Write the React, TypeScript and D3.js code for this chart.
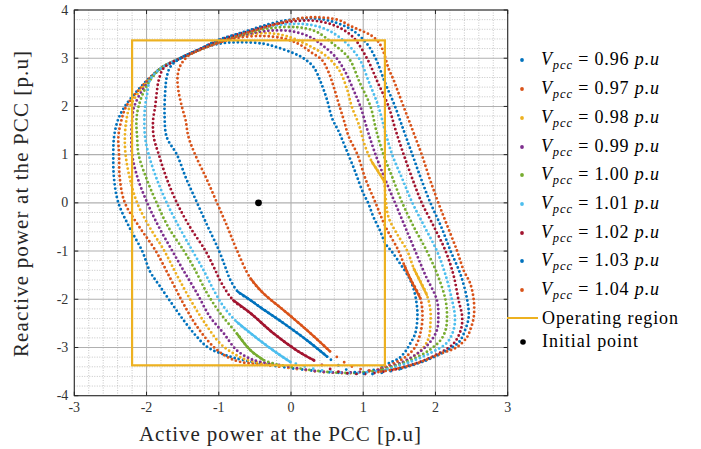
import React from "react";
import * as d3 from "d3";

const X_TICKS = [-3, -2, -1, 0, 1, 2, 3];
const Y_TICKS = [-4, -3, -2, -1, 0, 1, 2, 3, 4];
const V_LEVELS = ["0.96", "0.97", "0.98", "0.99", "1.00", "1.01", "1.02", "1.03", "1.04"];
const COLORS = ["#0072BD", "#D95319", "#EDB120", "#7E2F8E", "#77AC30", "#4DBEEE", "#A2142F", "#0072BD", "#D95319"];

const OPERATING_REGION = { pMin: -2.2, pMax: 1.3, qMin: -3.37, qMax: 3.37 };
const INITIAL_POINT: [number, number] = [-0.45, 0];

type P = [number, number];

const C096: P[] = [[-1.26,3.18],[-1.0,3.30],[-0.7,3.33],[-0.38,3.30],[-0.18,3.22],[0.04,3.10],[0.17,3.0],[0.31,2.82],[0.41,2.51],[0.50,2.13],[0.57,1.75],[0.66,1.48],[0.75,1.16],[0.89,0.64],[1.0,0.2],[1.07,-0.01],[1.14,-0.29],[1.23,-0.57],[1.31,-0.85],[1.40,-1.02],[1.51,-1.26],[1.63,-1.54],[1.70,-1.80],[1.74,-2.10],[1.75,-2.37],[1.72,-2.71],[1.65,-2.92],[1.58,-3.09],[1.49,-3.23],[1.38,-3.31],[1.26,-3.40],[1.0,-3.53],[0.7,-3.53],[0.3,-3.48],[-0.1,-3.41],[-0.43,-3.33],[-0.75,-3.23],[-0.98,-3.12],[-1.16,-2.99],[-1.32,-2.75],[-1.49,-2.43],[-1.65,-2.09],[-1.82,-1.72],[-1.95,-1.43],[-2.06,-1.0],[-2.24,-0.5],[-2.39,0.0],[-2.45,0.5],[-2.46,1.0],[-2.45,1.36],[-2.40,1.70],[-2.30,2.0],[-2.07,2.42],[-1.81,2.78],[-1.53,3.0]];
const C097: P[] = [[-1.26,3.18],[-1.0,3.32],[-0.75,3.42],[-0.4,3.46],[-0.1,3.41],[0.1,3.30],[0.27,3.13],[0.43,2.96],[0.52,2.71],[0.59,2.41],[0.66,2.06],[0.73,1.72],[0.80,1.37],[0.92,1.0],[1.03,0.5],[1.17,0.0],[1.31,-0.5],[1.49,-1.0],[1.57,-1.3],[1.65,-1.57],[1.79,-1.98],[1.82,-2.37],[1.79,-2.71],[1.72,-2.99],[1.60,-3.18],[1.45,-3.31],[1.2,-3.46],[0.8,-3.53],[0.4,-3.50],[0.0,-3.43],[-0.35,-3.36],[-0.70,-3.30],[-0.89,-3.19],[-1.07,-2.99],[-1.30,-2.57],[-1.49,-2.09],[-1.67,-1.57],[-1.88,-0.98],[-2.10,-0.5],[-2.30,0.0],[-2.37,0.5],[-2.38,1.0],[-2.39,1.36],[-2.35,1.70],[-2.28,2.0],[-2.06,2.42],[-1.81,2.78],[-1.53,3.0]];
const C098: P[] = [[-1.26,3.18],[-1.0,3.33],[-0.66,3.47],[-0.35,3.52],[-0.12,3.48],[0.08,3.38],[0.36,3.17],[0.50,3.03],[0.61,2.86],[0.68,2.72],[0.78,2.34],[0.84,2.0],[0.94,1.62],[1.02,1.2],[1.12,0.85],[1.28,0.47],[1.31,0.1],[1.35,-0.3],[1.47,-0.65],[1.61,-1.0],[1.70,-1.36],[1.88,-1.91],[1.93,-2.23],[1.93,-2.51],[1.91,-2.78],[1.84,-2.99],[1.70,-3.18],[1.50,-3.34],[1.2,-3.47],[0.8,-3.53],[0.4,-3.50],[0.0,-3.42],[-0.30,-3.35],[-0.61,-3.26],[-0.80,-3.12],[-0.98,-2.92],[-1.19,-2.50],[-1.39,-2.02],[-1.58,-1.50],[-1.76,-0.98],[-1.96,-0.5],[-2.13,0.0],[-2.23,0.5],[-2.29,1.0],[-2.30,1.36],[-2.28,1.70],[-2.23,2.0],[-2.04,2.42],[-1.81,2.78],[-1.53,3.0]];
const C099: P[] = [[-1.26,3.18],[-1.0,3.34],[-0.66,3.48],[-0.3,3.57],[0.0,3.56],[0.25,3.45],[0.45,3.25],[0.62,3.02],[0.75,2.72],[0.86,2.36],[0.96,2.0],[1.06,1.5],[1.17,1.0],[1.30,0.5],[1.44,0.0],[1.58,-0.5],[1.72,-1.0],[1.86,-1.5],[2.02,-2.02],[2.04,-2.37],[2.02,-2.64],[1.93,-2.88],[1.80,-3.07],[1.55,-3.30],[1.2,-3.47],[0.8,-3.52],[0.4,-3.50],[0.05,-3.42],[-0.25,-3.34],[-0.52,-3.26],[-0.75,-3.06],[-0.93,-2.71],[-1.12,-2.37],[-1.30,-1.88],[-1.49,-1.40],[-1.65,-0.98],[-1.83,-0.5],[-1.99,0.0],[-2.12,0.5],[-2.20,1.0],[-2.21,1.36],[-2.20,1.70],[-2.17,2.0],[-2.02,2.42],[-1.81,2.78],[-1.53,3.0]];
const C100: P[] = [[-1.26,3.18],[-1.0,3.35],[-0.66,3.50],[-0.3,3.62],[0.1,3.64],[0.35,3.55],[0.58,3.30],[0.80,3.0],[0.95,2.5],[1.10,2.0],[1.18,1.5],[1.28,1.0],[1.41,0.5],[1.54,0.0],[1.70,-0.5],[1.88,-1.0],[2.03,-1.5],[2.14,-2.02],[2.16,-2.37],[2.14,-2.64],[2.07,-2.85],[1.90,-3.07],[1.60,-3.30],[1.25,-3.47],[0.85,-3.53],[0.45,-3.50],[0.1,-3.43],[-0.20,-3.35],[-0.38,-3.26],[-0.56,-3.06],[-0.75,-2.71],[-0.98,-2.29],[-1.16,-1.88],[-1.35,-1.33],[-1.49,-0.98],[-1.70,-0.5],[-1.86,0.0],[-2.00,0.5],[-2.11,1.0],[-2.13,1.36],[-2.14,1.70],[-2.11,2.0],[-2.00,2.42],[-1.81,2.78],[-1.53,3.0]];
const C101: P[] = [[-1.26,3.19],[-1.0,3.36],[-0.66,3.51],[-0.3,3.66],[0.15,3.71],[0.45,3.62],[0.70,3.40],[0.94,3.0],[1.08,2.5],[1.21,2.0],[1.30,1.5],[1.40,1.0],[1.54,0.5],[1.68,0.0],[1.85,-0.5],[2.02,-1.0],[2.14,-1.5],[2.23,-2.02],[2.27,-2.37],[2.25,-2.64],[2.16,-2.90],[1.95,-3.10],[1.65,-3.30],[1.30,-3.47],[0.9,-3.53],[0.55,-3.50],[0.25,-3.42],[-0.01,-3.30],[-0.19,-3.12],[-0.47,-2.81],[-0.75,-2.47],[-0.93,-2.16],[-1.07,-1.81],[-1.21,-1.40],[-1.37,-0.98],[-1.55,-0.5],[-1.72,0.0],[-1.86,0.5],[-1.97,1.0],[-2.02,1.36],[-2.03,1.70],[-2.02,2.0],[-1.99,2.27],[-1.95,2.55],[-1.81,2.78],[-1.53,3.0]];
const C102: P[] = [[-1.26,3.19],[-1.0,3.37],[-0.66,3.53],[-0.3,3.68],[0.0,3.76],[0.3,3.78],[0.6,3.68],[0.85,3.45],[1.05,3.0],[1.20,2.5],[1.35,2.0],[1.45,1.5],[1.56,1.0],[1.68,0.5],[1.81,0.0],[1.98,-0.5],[2.14,-1.0],[2.25,-1.5],[2.32,-2.02],[2.37,-2.37],[2.35,-2.64],[2.25,-2.92],[2.05,-3.12],[1.75,-3.32],[1.40,-3.47],[1.0,-3.55],[0.6,-3.48],[0.31,-3.26],[0.08,-3.06],[-0.24,-2.71],[-0.56,-2.29],[-0.80,-2.02],[-0.96,-1.67],[-1.07,-1.33],[-1.19,-0.98],[-1.40,-0.5],[-1.58,0.0],[-1.72,0.5],[-1.83,1.0],[-1.90,1.36],[-1.91,1.70],[-1.88,2.0],[-1.86,2.27],[-1.83,2.55],[-1.76,2.80],[-1.53,3.0]];
const C103: P[] = [[-1.26,3.19],[-1.0,3.38],[-0.66,3.54],[-0.3,3.71],[0.0,3.80],[0.25,3.83],[0.55,3.77],[0.85,3.58],[1.05,3.30],[1.17,3.0],[1.30,2.5],[1.44,2.0],[1.56,1.5],[1.68,1.0],[1.80,0.5],[1.93,0.0],[2.08,-0.5],[2.21,-1.0],[2.35,-1.5],[2.44,-2.02],[2.46,-2.37],[2.41,-2.64],[2.33,-2.88],[2.15,-3.07],[1.85,-3.28],[1.50,-3.45],[1.10,-3.55],[0.75,-3.45],[0.50,-3.19],[0.22,-2.85],[-0.10,-2.50],[-0.43,-2.16],[-0.56,-2.02],[-0.73,-1.85],[-0.84,-1.60],[-0.91,-1.33],[-1.0,-0.98],[-1.15,-0.5],[-1.30,0.0],[-1.45,0.5],[-1.58,1.0],[-1.72,1.36],[-1.75,1.80],[-1.74,2.34],[-1.72,2.61],[-1.67,2.82],[-1.53,3.0]];
const C104: P[] = [[-1.26,3.17],[-1.03,3.31],[-0.66,3.50],[-0.15,3.73],[0.1,3.82],[0.35,3.85],[0.66,3.79],[0.82,3.67],[0.96,3.58],[1.10,3.48],[1.21,3.34],[1.28,3.13],[1.35,2.79],[1.42,2.55],[1.49,2.27],[1.56,1.99],[1.63,1.72],[1.70,1.44],[1.81,1.0],[1.92,0.5],[2.04,0.0],[2.17,-0.5],[2.30,-1.0],[2.39,-1.40],[2.48,-1.67],[2.53,-2.02],[2.53,-2.37],[2.48,-2.64],[2.44,-2.78],[2.30,-2.99],[2.07,-3.13],[1.74,-3.33],[1.47,-3.44],[1.21,-3.51],[0.89,-3.42],[0.73,-3.30],[0.54,-3.08],[0.22,-2.64],[-0.10,-2.23],[-0.38,-1.88],[-0.56,-1.57],[-0.75,-0.98],[-0.88,-0.5],[-1.025,0.0],[-1.17,0.5],[-1.324,0.99],[-1.42,1.37],[-1.46,1.72],[-1.51,1.99],[-1.56,2.34],[-1.57,2.62],[-1.53,2.85],[-1.42,3.05]];

const CURVES: P[][] = [C096, C097, C098, C099, C100, C101, C102, C103, C104];

// [series, first index, last index] of stretches where the samples are packed densely
const DENSE_RUNS: [number, number, number][] = [
  [1, 18, 20],
  [2, 14, 15],
  [2, 20, 21],
  [4, 28, 30],
  [5, 27, 30],
  [6, 27, 31],
  [7, 28, 33],
  [8, 36, 40],
];

// [series, first index, last index] of the fast, sparsely sampled stretch along the bottom
const SPARSE_RUNS: [number, number, number][] = [
  [0, 30, 35],
  [1, 26, 30],
  [2, 28, 32],
  [3, 24, 28],
  [4, 23, 27],
  [5, 23, 27],
  [6, 24, 27],
  [7, 25, 28],
  [8, 33, 36],
];

const W = 701;
const H = 449;
const L = 74.3, R = 507.7, T = 10, B = 395.7;

export default function App() {
  const x = d3.scaleLinear().domain([-3, 3]).range([L, R]);
  const y = d3.scaleLinear().domain([-4, 4]).range([B, T]);

  const open = d3
    .line<P>()
    .x((d) => x(d[0]))
    .y((d) => y(d[1]))
    .curve(d3.curveCatmullRom.alpha(0.5));

  const minorX = d3.range(-3, 3.0001, 0.2).filter((v) => Math.abs(v - Math.round(v)) > 1e-6);
  const minorY = d3.range(-4, 4.0001, 0.2).filter((v) => Math.abs(v - Math.round(v)) > 1e-6);

  const font = "'Liberation Serif', 'DejaVu Serif', serif";
  const legendRowsY = [60, 89, 118, 147, 175, 204, 233, 261, 290];

  return (
    <svg
      width={W}
      height={H}
      viewBox={`0 0 ${W} ${H}`}
      style={{ position: "absolute", left: 0, top: 0, display: "block", background: "#fff" }}
    >
      <rect x={0} y={0} width={W} height={H} fill="#fff" />
      {/* minor grid */}
      {minorX.map((v) => (
        <line key={"mx" + v} x1={x(v)} x2={x(v)} y1={T} y2={B} stroke="#b8b8b8" strokeWidth={0.8} strokeDasharray="1 1.5" />
      ))}
      {minorY.map((v) => (
        <line key={"my" + v} x1={L} x2={R} y1={y(v)} y2={y(v)} stroke="#b8b8b8" strokeWidth={0.8} strokeDasharray="1 1.5" />
      ))}
      {/* major grid */}
      {X_TICKS.map((v) => (
        <line key={"gx" + v} x1={x(v)} x2={x(v)} y1={T} y2={B} stroke="#b0b0b0" strokeWidth={1.1} />
      ))}
      {Y_TICKS.map((v) => (
        <line key={"gy" + v} x1={L} x2={R} y1={y(v)} y2={y(v)} stroke="#b0b0b0" strokeWidth={1.1} />
      ))}

      {/* curves */}
      {CURVES.map((c, i) => {
        const sp = SPARSE_RUNS.find((r) => r[0] === i)!;
        const a = sp[1];
        const b = sp[2];
        const sparsePts = c.slice(a, b + 1);
        const mainPts = c.slice(b).concat(c.slice(0, a + 1));
        return (
          <g key={"c" + i}>
            <path
              d={open(mainPts) || ""}
              fill="none"
              stroke={COLORS[i]}
              strokeWidth={2.9}
              strokeLinecap="round"
              strokeDasharray="0 4.3"
            />
            <path
              d={open(sparsePts) || ""}
              fill="none"
              stroke={COLORS[i]}
              strokeWidth={2.9}
              strokeLinecap="round"
              strokeDasharray="0 9"
            />
          </g>
        );
      })}
      {DENSE_RUNS.map(([s, a, b], k) => (
        <path
          key={"d" + k}
          d={open(CURVES[s].slice(a, b + 1)) || ""}
          fill="none"
          stroke={COLORS[s]}
          strokeWidth={2.4}
          strokeLinecap="round"
        />
      ))}

      {/* operating region */}
      <rect
        x={x(OPERATING_REGION.pMin)}
        y={y(OPERATING_REGION.qMax)}
        width={x(OPERATING_REGION.pMax) - x(OPERATING_REGION.pMin)}
        height={y(OPERATING_REGION.qMin) - y(OPERATING_REGION.qMax)}
        fill="none"
        stroke="#EDB120"
        strokeWidth={2.2}
      />
      <circle cx={x(INITIAL_POINT[0])} cy={y(INITIAL_POINT[1])} r={3.4} fill="#000" />

      {/* axes box */}
      <rect x={L} y={T} width={R - L} height={B - T} fill="none" stroke="#262626" strokeWidth={1} />
      {X_TICKS.map((v) => (
        <g key={"tx" + v}>
          <line x1={x(v)} x2={x(v)} y1={B} y2={B - 4} stroke="#262626" />
          <line x1={x(v)} x2={x(v)} y1={T} y2={T + 4} stroke="#262626" />
          <text x={x(v)} y={B + 16} textAnchor="middle" fontFamily={font} fontSize={14} fill="#333">
            {v}
          </text>
        </g>
      ))}
      {Y_TICKS.map((v) => (
        <g key={"ty" + v}>
          <line x1={L} x2={L + 4} y1={y(v)} y2={y(v)} stroke="#262626" />
          <line x1={R} x2={R - 4} y1={y(v)} y2={y(v)} stroke="#262626" />
          <text x={L - 6} y={y(v) + 4.5} textAnchor="end" fontFamily={font} fontSize={14} fill="#333">
            {v}
          </text>
        </g>
      ))}

      {/* axis labels */}
      <text x={280} y={441} textAnchor="middle" fontFamily={font} fontSize={21} fill="#262626" textLength={282}>
        Active power at the PCC [p.u]
      </text>
      <text
        transform={`translate(28, 204) rotate(-90)`}
        textAnchor="middle"
        fontFamily={font}
        fontSize={21}
        fill="#262626"
        textLength={306}
      >
        Reactive power at the PCC [p.u]
      </text>

      {/* legend */}
      {V_LEVELS.map((v, i) => (
        <g key={"lg" + i}>
          <circle cx={522} cy={legendRowsY[i]} r={1.9} fill={COLORS[i]} />
          <text x={541} y={legendRowsY[i] + 5} fontFamily={font} fontSize={18} fill="#000" textLength={118}>
            <tspan fontStyle="italic">V</tspan>
            <tspan fontStyle="italic" fontSize={12.5} dy={4}>pcc</tspan>
            <tspan dy={-4}>{" = " + v + " "}</tspan>
            <tspan fontStyle="italic">p.u</tspan>
          </text>
        </g>
      ))}
      <line x1={507} x2={538} y1={318} y2={318} stroke="#EDB120" strokeWidth={2} />
      <text x={542} y={323.5} fontFamily={font} fontSize={18} fill="#000" textLength={136}>
        Operating region
      </text>
      <circle cx={523} cy={342} r={2.8} fill="#000" />
      <text x={542} y={347} fontFamily={font} fontSize={18} fill="#000" textLength={96}>
        Initial point
      </text>
    </svg>
  );
}
